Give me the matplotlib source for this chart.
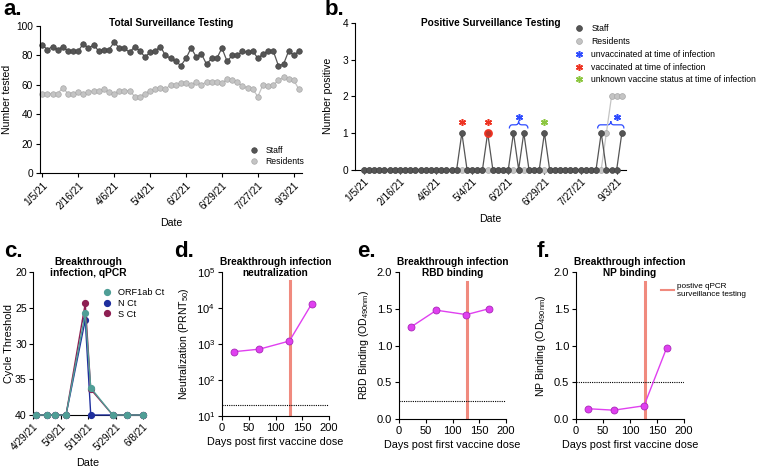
import numpy as np
import matplotlib
matplotlib.use('Agg')
import matplotlib.pyplot as plt
from matplotlib.lines import Line2D
from matplotlib.path import Path
from matplotlib.patches import PathPatch

plt.rcParams['font.family'] = ['Liberation Sans', 'DejaVu Sans']
plt.rcParams['mathtext.default'] = 'regular'
plt.rcParams['axes.linewidth'] = 0.8
plt.rcParams['xtick.major.width'] = 0.8
plt.rcParams['ytick.major.width'] = 0.8
plt.rcParams['xtick.major.size'] = 3
plt.rcParams['ytick.major.size'] = 3

# ---- data: panels a / b (weekly surveillance, categorical x) ----
date_ticks = ['1/5/21', '2/16/21', '4/6/21', '5/4/21', '6/2/21', '6/29/21', '7/27/21', '9/3/21']
date_tick_idx = [0, 7, 14, 21, 28, 35, 42, 49]

staff_tested = [87, 84, 86, 84, 86, 83, 83, 83, 88, 85, 87, 83, 84, 84, 89, 85, 85,
                82, 86, 83, 79, 82, 83, 86, 80, 78, 76, 73, 78, 85, 79, 81, 74, 78,
                78, 85, 76, 80, 80, 83, 82, 83, 78, 81, 83, 83, 73, 74, 83, 80, 83]
residents_tested = [54, 54, 54, 54, 58, 54, 54, 55, 54, 55, 56, 56, 57, 55, 54, 56, 56,
                    56, 52, 52, 54, 56, 57, 58, 57, 60, 60, 61, 61, 60, 62, 60, 62, 62,
                    62, 61, 64, 63, 62, 59, 58, 57, 52, 60, 59, 60, 63, 65, 64, 63, 57]

staff_positive = [0, 0, 0, 0, 0, 0, 0, 0, 0, 0, 0, 0, 0, 0, 0, 0, 0,
                  0, 0, 1, 0, 0, 0, 0, 1, 0, 0, 0, 0, 1, 0, 1, 0, 0,
                  0, 1, 0, 0, 0, 0, 0, 0, 0, 0, 0, 0, 1, 0, 0, 0, 1]
residents_positive = [0, 0, 0, 0, 0, 0, 0, 0, 0, 0, 0, 0, 0, 0, 0, 0, 0,
                      0, 0, 0, 0, 0, 0, 0, 0, 0, 0, 0, 0, 0, 0, 0, 0, 0,
                      0, 0, 0, 0, 0, 0, 0, 0, 0, 0, 0, 0, 0, 1, 2, 2, 2]
vaccinated_idx = 24
star_idx = [19, 24, 30, 35, 49]
star_y = [1.29, 1.29, 1.44, 1.31, 1.44]
star_status = ['vacc', 'vacc', 'unvacc', 'unknown', 'unvacc']
brace_spans = [(28.2, 31.8), (45.3, 50.4)]

# ---- data: panel c (qPCR) ----
c_dates = ['2021-04-30', '2021-05-04', '2021-05-07', '2021-05-11', '2021-05-18',
           '2021-05-20', '2021-05-28', '2021-06-02', '2021-06-08']
orf1ab_ct = [40, 40, 40, 40, 25.8, 36.2, 40, 40, 40]
n_ct = [40, 40, 40, 40, 26.7, 40, 40, 40, 40]
s_ct = [40, 40, 40, 40, 24.4, 36.4, 40, 40, 40]
c_tick_labels = ['4/29/21', '5/9/21', '5/19/21', '5/29/21', '6/8/21']

# ---- data: panels d-f (serology) ----
days_post = [22, 70, 126, 168]
prnt50 = [610, 720, 1210, 13300]
rbd_od = [1.25, 1.48, 1.42, 1.50]
np_od = [0.14, 0.12, 0.18, 0.97]
positive_qpcr_day = 128
prnt_lod = 20
rbd_cut = 0.25
np_cut = 0.5

STAFF = '#555555'
RES = '#c4c4c4'
MAG = '#e040f0'
MAG_EDGE = '#a828b8'
SALMON = '#f08a7e'
STAR_COL = {'unvacc': '#2f4cff', 'vacc': '#ee3322', 'unknown': '#8cc63f'}
ASTERISK = (6, 2, 0)

W, H = 760, 472
fig = plt.figure(figsize=(W / 100, H / 100), dpi=100)


def add_ax(l, r, t, b):
    ax = fig.add_axes([l / W, 1 - b / H, (r - l) / W, (b - t) / H])
    ax.spines['top'].set_visible(False)
    ax.spines['right'].set_visible(False)
    return ax


def brace(ax, x0, x1, y, h, color):
    xm = (x0 + x1) / 2
    a = 0.6
    verts = [(x0, y - h), (x0, y), (x0 + a, y), (xm - a, y), (xm, y), (xm, y + h),
             (xm, y), (xm + a, y), (x1 - a, y), (x1, y), (x1, y - h)]
    codes = [Path.MOVETO, Path.CURVE3, Path.CURVE3, Path.LINETO, Path.CURVE3, Path.CURVE3,
             Path.CURVE3, Path.CURVE3, Path.LINETO, Path.CURVE3, Path.CURVE3]
    ax.add_patch(PathPatch(Path(verts, codes), fill=False, ec=color, lw=0.9, clip_on=False))


# ---------------- a ----------------
ax = add_ax(40, 302, 26, 173)
x = np.arange(len(staff_tested))
ax.plot(x, residents_tested, '-o', color=RES, mec='#a8a8a8', mew=0.5, ms=4, lw=0.9,
        label='Residents', clip_on=False)
ax.plot(x, staff_tested, '-o', color=STAFF, mec='#444444', mew=0.5, ms=4, lw=0.9,
        label='Staff', clip_on=False)
ax.set_xlim(-0.45, 50.6)
ax.set_ylim(0, 100)
ax.set_yticks([0, 20, 40, 60, 80, 100])
ax.set_xticks(date_tick_idx)
ax.set_xticklabels(date_ticks, rotation=45, ha='right', rotation_mode='anchor')
ax.tick_params(labelsize=7.3, pad=2)
ax.set_ylabel('Number tested', fontsize=7.6, labelpad=3)
ax.set_xlabel('Date', fontsize=7.6, labelpad=5)
ax.text(0.5, 1.02, 'Total Surveillance Testing', transform=ax.transAxes, ha='center',
        va='center', fontsize=7.3, fontweight='bold')
h, l = ax.get_legend_handles_labels()
ax.legend(h[::-1], l[::-1], loc='upper left', bbox_to_anchor=(250 / W, 1 - 146 / H),
          bbox_transform=fig.transFigure, frameon=False, fontsize=6.2, handlelength=1,
          handletextpad=0.8, labelspacing=0.25, borderpad=0, borderaxespad=0)
for lh in ax.get_legend().get_lines():
    lh.set_linestyle('')

# ---------------- b ----------------
ax = add_ax(355, 626, 23, 169.5)
x = np.arange(len(staff_positive))
ax.plot(x, residents_positive, '-o', color=RES, mec='#a8a8a8', mew=0.5, ms=4.2, lw=0.9,
        clip_on=False, zorder=3)
ax.plot(x, staff_positive, '-o', color=STAFF, mec='#444444', mew=0.5, ms=4.2, lw=0.9,
        clip_on=False, zorder=4)
ax.plot([vaccinated_idx], [staff_positive[vaccinated_idx]], 'o', ms=5, mfc='#b8352a',
        mec='#ee3322', mew=1.3, zorder=5)
for i, yv, st in zip(star_idx, star_y, star_status):
    ax.plot([i], [yv], marker=ASTERISK, ms=5, mew=1.1, color=STAR_COL[st], ls='', zorder=6)
for x0, x1 in brace_spans:
    brace(ax, x0, x1, 1.22, 0.1, STAR_COL['unvacc'])
ax.set_xlim(-1.7, 50.8)
ax.set_ylim(0, 4)
ax.set_yticks([0, 1, 2, 3, 4])
ax.set_xticks(date_tick_idx)
ax.set_xticklabels(date_ticks, rotation=45, ha='right', rotation_mode='anchor')
ax.tick_params(labelsize=7.3, pad=2)
ax.set_ylabel('Number positive', fontsize=7.6, labelpad=7)
ax.set_xlabel('Date', fontsize=7.6, labelpad=5)
ax.text(0.5, 1.0, 'Positive Surveillance Testing', transform=ax.transAxes, ha='center',
        va='center', fontsize=7.3, fontweight='bold')
handles = [
    Line2D([], [], ls='', marker='o', ms=4.2, color=STAFF, mec='#444444', mew=0.5),
    Line2D([], [], ls='', marker='o', ms=4.2, color=RES, mec='#a8a8a8', mew=0.5),
    Line2D([], [], ls='', marker=ASTERISK, ms=5, mew=1.1, color=STAR_COL['unvacc']),
    Line2D([], [], ls='', marker=ASTERISK, ms=5, mew=1.1, color=STAR_COL['vacc']),
    Line2D([], [], ls='', marker=ASTERISK, ms=5, mew=1.1, color=STAR_COL['unknown']),
]
labels = ['Staff', 'Residents', 'unvaccinated at time of infection',
          'vaccinated at time of infection', 'unknown vaccine status at time of infection']
ax.legend(handles, labels, loc='upper left', bbox_to_anchor=(575 / W, 1 - 24 / H),
          bbox_transform=fig.transFigure, frameon=False, fontsize=6.2, handlelength=1,
          handletextpad=0.9, labelspacing=0.45, borderpad=0, borderaxespad=0)

# ---------------- c ----------------
ax = add_ax(33, 143, 272, 415)
d0 = np.datetime64('2021-04-29')
cx = (np.array(c_dates, dtype='datetime64[D]') - d0).astype(float)
ax.plot(cx, n_ct, '-o', color='#1f2f9e', ms=4.2, lw=1, label='N Ct', clip_on=False, zorder=3)
ax.plot(cx, s_ct, '-o', color='#8e1f52', ms=4.2, lw=1, label='S Ct', clip_on=False, zorder=3)
ax.plot(cx, orf1ab_ct, '-o', color='#4f9e96', ms=4.2, lw=1, label='ORF1ab Ct',
        clip_on=False, zorder=4)
ax.hlines(40, 0, 12.5, colors='black', linestyles=(0, (1, 1)), lw=0.8, zorder=3.5)
ax.set_xlim(0, 40)
ax.set_ylim(40, 20)
ax.set_yticks([20, 25, 30, 35, 40])
ax.set_xticks([0, 10, 20, 30, 40])
ax.set_xticklabels(c_tick_labels, rotation=45, ha='right', rotation_mode='anchor')
ax.tick_params(axis='y', labelsize=7.6, pad=1.5)
ax.tick_params(axis='x', labelsize=7.2, pad=2)
ax.set_ylabel('Cycle Threshold', fontsize=7.8, labelpad=1)
ax.set_xlabel('Date', fontsize=7.8, labelpad=4)
ax.text(0.5, 1.03, 'Breakthrough\ninfection, qPCR', transform=ax.transAxes, ha='center',
        va='center', fontsize=7.4, fontweight='bold', linespacing=1.1)
h, l = ax.get_legend_handles_labels()
ax.legend([h[2], h[0], h[1]], [l[2], l[0], l[1]], loc='upper left',
          bbox_to_anchor=(102 / W, 1 - 288 / H), bbox_transform=fig.transFigure,
          frameon=False, fontsize=6.6, handlelength=1, handletextpad=0.7,
          labelspacing=0.2, borderpad=0, borderaxespad=0)
for lh in ax.get_legend().get_lines():
    lh.set_linestyle('')


# ---------------- d, e, f ----------------
def serology(ax, yvals, title, ylabel):
    ax.axvline(positive_qpcr_day, ymin=0, ymax=0.935, color=SALMON, lw=2.2, zorder=1)
    ax.plot(days_post, yvals, '-o', color=MAG, mfc=MAG, mec=MAG_EDGE, mew=0.6, ms=5,
            lw=1, zorder=4, clip_on=False)
    ax.set_xlim(0, 200)
    ax.set_xticks([0, 50, 100, 150, 200])
    ax.tick_params(labelsize=8, pad=2)
    ax.set_xlabel('Days post first vaccine dose', fontsize=7.8, labelpad=3)
    ax.set_ylabel(ylabel, fontsize=7.6, labelpad=4)
    ax.text(0.5, 1.03, title, transform=ax.transAxes, ha='center', va='center',
            fontsize=7.3, fontweight='bold', linespacing=1.1)


ax = add_ax(222, 329, 272, 416)
ax.set_yscale('log')
ax.set_ylim(10, 1e5)
ax.set_yticks([1e1, 1e2, 1e3, 1e4, 1e5])
ax.axhline(prnt_lod, color='black', ls=(0, (1, 1)), lw=0.8, zorder=2)
serology(ax, prnt50, 'Breakthrough infection\nneutralization',
         'Neutralization (PRNT$_{50}$)')
ax.minorticks_off()

ax = add_ax(399, 506, 272, 419)
ax.set_ylim(0, 2)
ax.set_yticks([0, 0.5, 1.0, 1.5, 2.0])
ax.set_yticklabels(['0.0', '0.5', '1.0', '1.5', '2.0'])
ax.axhline(rbd_cut, color='black', ls=(0, (1, 1)), lw=0.8, zorder=2)
serology(ax, rbd_od, 'Breakthrough infection\nRBD binding', 'RBD Binding (OD$_{490nm}$)')

ax = add_ax(576, 684, 272, 419)
ax.set_ylim(0, 2)
ax.set_yticks([0, 0.5, 1.0, 1.5, 2.0])
ax.set_yticklabels(['0.0', '0.5', '1.0', '1.5', '2.0'])
ax.axhline(np_cut, color='black', ls=(0, (1, 1)), lw=0.8, zorder=2)
serology(ax, np_od, 'Breakthrough infection\nNP binding', 'NP Binding (OD$_{490nm}$)')
ax.legend([Line2D([], [], color=SALMON, lw=1.5)], ['postive qPCR\nsurveillance testing'],
          loc='upper left', bbox_to_anchor=(661 / W, 1 - 283 / H),
          bbox_transform=fig.transFigure, frameon=False, fontsize=5.9, handlelength=1.6,
          handletextpad=0.4, borderpad=0, borderaxespad=0)

# panel letters
for letter, px, py in [('a.', 3, 15), ('b.', 325, 15), ('c.', 4, 257), ('d.', 174, 257),
                       ('e.', 357, 257), ('f.', 537, 257)]:
    fig.text(px / W, 1 - py / H, letter, fontsize=16, fontweight='bold', va='baseline')

fig.savefig('out.png', dpi=100)
